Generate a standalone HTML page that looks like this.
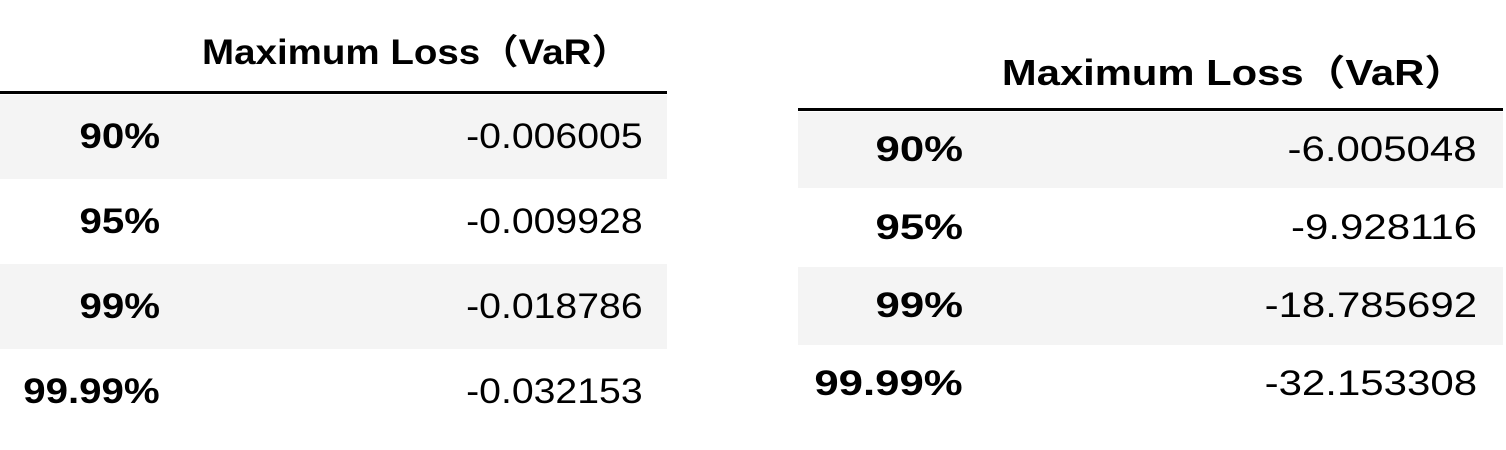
<!DOCTYPE html>
<html><head><meta charset="utf-8"><style>
body{margin:0;width:1506px;height:450px;background:#fff;overflow:hidden;position:relative;font-family:"Liberation Sans","Noto Sans CJK SC",sans-serif;color:#000}
.t{position:absolute}
.hdr{position:absolute;font-weight:bold;white-space:nowrap}
.line{position:absolute;height:3px;background:#000}
.row{position:absolute;display:flex;align-items:center}
.row.g{background:#f4f4f4}
.lab{position:absolute;font-weight:bold;text-align:right;font-size:35px;transform-origin:right}
.val{position:absolute;text-align:right;font-size:35px;transform-origin:right}
.L .lab{right:507px;transform:scaleX(1.15)}
.L .val{right:24px;transform:scaleX(1.12)}
.R .lab{right:540px;transform:scaleX(1.25)}
.R .val{right:26px;transform:scaleX(1.2)}
</style></head><body>
<div class="t L" style="left:0;top:0;width:667px;height:450px">
 <div class="hdr" style="left:416px;top:24px;font-size:35px;transform:translateX(-50%) scaleX(1.1)">Maximum Loss（VaR）</div>
 <div class="line" style="left:0;top:91px;width:667px"></div>
 <div class="row g" style="left:0;top:95px;width:667px;height:84px"><span class="lab">90%</span><span class="val">-0.006005</span></div>
 <div class="row" style="left:0;top:179px;width:667px;height:85px"><span class="lab">95%</span><span class="val">-0.009928</span></div>
 <div class="row g" style="left:0;top:264px;width:667px;height:85px"><span class="lab">99%</span><span class="val">-0.018786</span></div>
 <div class="row" style="left:0;top:349px;width:667px;height:85px"><span class="lab">99.99%</span><span class="val">-0.032153</span></div>
</div>
<div class="t R" style="left:798px;top:0;width:705px;height:450px">
 <div class="hdr" style="left:436px;top:44px;font-size:36px;transform:translateX(-50%) scaleX(1.16)">Maximum Loss（VaR）</div>
 <div class="line" style="left:0;top:108px;width:705px"></div>
 <div class="row g" style="left:0;top:112px;width:705px;height:76px"><span class="lab">90%</span><span class="val">-6.005048</span></div>
 <div class="row" style="left:0;top:188px;width:705px;height:79px"><span class="lab">95%</span><span class="val">-9.928116</span></div>
 <div class="row g" style="left:0;top:267px;width:705px;height:78px"><span class="lab">99%</span><span class="val">-18.785692</span></div>
 <div class="row" style="left:0;top:345px;width:705px;height:78px"><span class="lab">99.99%</span><span class="val">-32.153308</span></div>
</div>
</body></html>
